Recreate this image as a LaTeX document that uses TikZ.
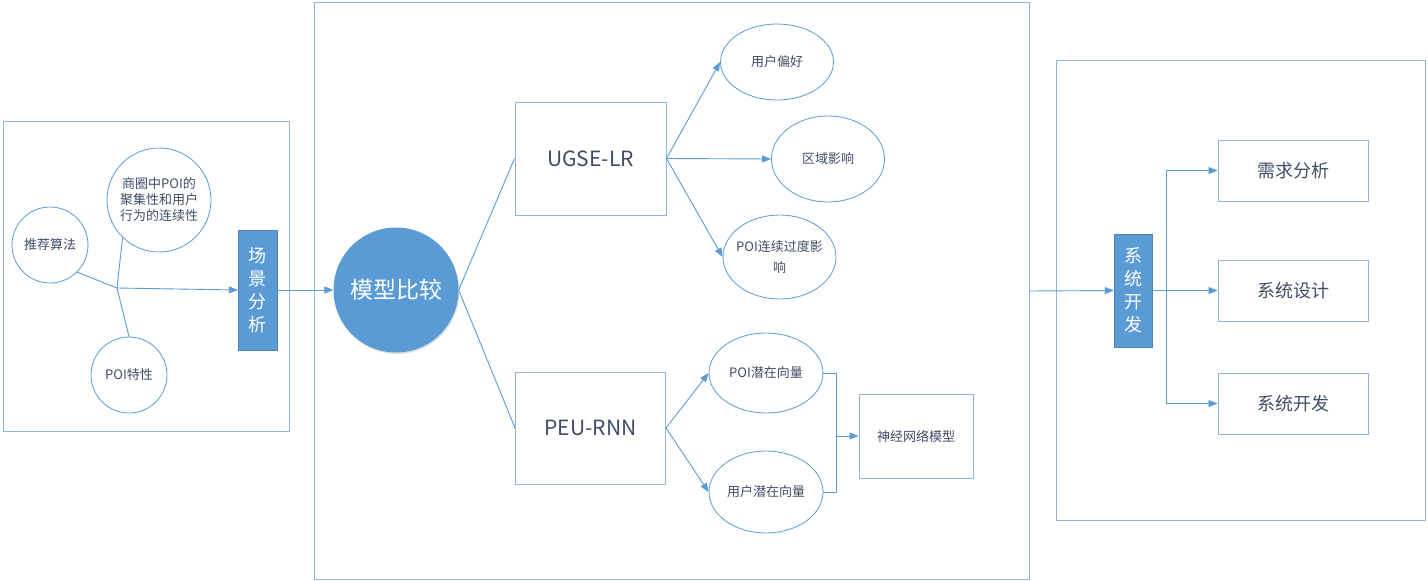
\documentclass[tikz,border=0pt]{standalone}
\usepackage{fontspec}
\newfontfamily\cjk{Noto Sans CJK SC}
\usetikzlibrary{arrows.meta,shapes.geometric,shadows}
\definecolor{ln}{HTML}{5B9BD5}
\definecolor{frame}{HTML}{8DB4E2}
\definecolor{txt}{HTML}{3F4E66}
\definecolor{fillb}{HTML}{5B9BD5}
\tikzset{
  every node/.style={text=txt},
  f13/.style={font=\cjk\fontsize{13}{16}\selectfont},
  f18/.style={font=\cjk\fontsize{18}{23}\selectfont},
  f21/.style={font=\cjk\fontsize{21}{25}\selectfont},
  f23/.style={font=\cjk\fontsize{23}{28}\selectfont},
  area/.style={draw=frame, line width=0.9pt},
  circ/.style={circle, draw=ln, line width=0.8pt, inner sep=0pt, align=center, f13},
  ell/.style={ellipse, draw=ln, line width=0.8pt, inner sep=0pt, align=center, f13},
  rbox/.style={rectangle, draw=frame, line width=1pt, inner sep=0pt, align=center},
  bluebox/.style={rectangle, fill=fillb, draw=fillb!85!black, line width=0.3pt, inner sep=0pt, align=center, text=white, f18,
     drop shadow={opacity=0.25, shadow xshift=1.2pt, shadow yshift=-1.2pt}},
  conn/.style={draw=ln, line width=0.9pt},
  arr/.style={conn, -{Triangle[length=9pt,width=7pt]}},
}
\begin{document}
\begin{tikzpicture}[x=1pt,y=-1pt]
\useasboundingbox (0,0) rectangle (1428,581);
\fill[white] (0,0) rectangle (1428,581);
% frames
\draw[area] (3,121) rectangle (289,431);
\draw[area] (314,2) rectangle (1029,579);
\draw[area] (1056,60) rectangle (1425,520);
% left group
\node[circ, minimum size=76pt] (tj) at (50,245) {推荐算法};
\node[circ, minimum size=104pt] (sq) at (159,200) {商圈中POI的\\聚集性和用户\\行为的连续性};
\node[circ, minimum size=76pt] (poi) at (129,375) {POI特性};
\coordinate (j) at (117,288);
\node[bluebox, minimum width=39pt, minimum height=120pt] (cj) at (257.5,290) {场\\景\\分\\析};
\draw[conn] (tj.-45) -- (j);
\draw[conn] (sq.-134) -- (j);
\draw[conn] (poi.north) -- (j);
\draw[arr] (j) -- (cj.west);
% middle
\node[circle, fill=fillb, inner sep=0pt, minimum size=125pt, text=white, f23,
      drop shadow={opacity=0.25, shadow xshift=1pt, shadow yshift=-1.5pt}] (mx) at (396,290) {模型比较};
\draw[arr] (cj.east) -- (mx.west);
\node[rbox, f21, minimum width=151pt, minimum height=113pt] (ug) at (590.5,158.5) {UGSE-LR};
\node[rbox, f21, minimum width=150pt, minimum height=112pt] (peu) at (590.5,428) {PEU-RNN};
\draw[conn] (mx.east) -- (ug.west);
\draw[conn] (mx.east) -- (peu.west);
\node[ell, minimum width=113pt, minimum height=76pt] (yh) at (777,62) {用户偏好};
\node[ell, minimum width=113pt, minimum height=86pt] (qy) at (828,159) {区域影响};
\node[ell, minimum width=113pt, minimum height=84pt] (lx) at (779.5,257) {};
\node[align=center, inner sep=0pt, font=\cjk\fontsize{13}{21}\selectfont] (lxt) at (lx.center) {POI连续过度影\\响};
\draw[arr] (ug.east) -- (yh.west);
\draw[arr] (ug.east) -- (qy.west);
\draw[arr] (ug.east) -- (lx.west);
\node[ell, minimum width=114pt, minimum height=80pt] (pv) at (766,373) {POI潜在向量};
\node[ell, minimum width=114pt, minimum height=82pt] (uv) at (766,492) {用户潜在向量};
\draw[arr] (peu.east) -- (pv.west);
\draw[arr] (peu.east) -- (uv.west);
\node[rbox, f13, minimum width=114pt, minimum height=84pt] (nn) at (916,436) {神经网络模型};
\coordinate (m) at (836,436);
\draw[conn] (pv.east) -| (m);
\draw[conn] (uv.east) -| (m);
\draw[arr] (m) -- (nn.west);
% right
\node[bluebox, minimum width=38pt, minimum height=113pt] (xt) at (1133,290.5) {系\\统\\开\\发};
\coordinate (mr) at (1029,291);
\draw[arr] (mr) -- (xt.west);
\node[rbox, f18, minimum width=150pt, minimum height=61pt] (r1) at (1293,170.5) {需求分析};
\node[rbox, f18, minimum width=150pt, minimum height=61pt] (r2) at (1293,290.5) {系统设计};
\node[rbox, f18, minimum width=150pt, minimum height=61pt] (r3) at (1293,403.5) {系统开发};
\coordinate (b) at (1166,290.5);
\draw[arr] (xt.east) -- (r2.west);
\draw[arr] (b) |- (r1.west);
\draw[arr] (b) |- (r3.west);
\end{tikzpicture}
\end{document}
